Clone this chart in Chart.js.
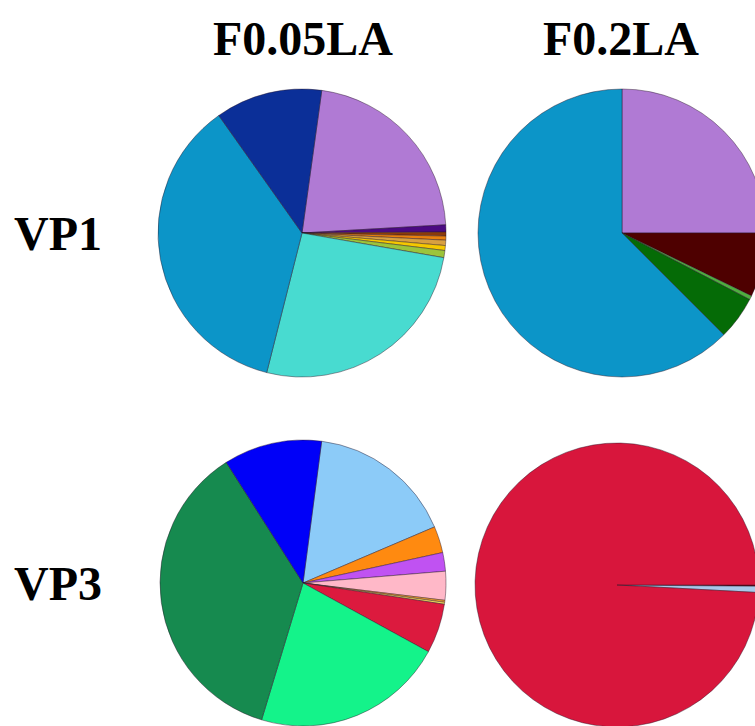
<!DOCTYPE html>
<html>
<head>
<meta charset="utf-8">
<script src="https://cdn.jsdelivr.net/npm/chart.js@4"></script>
<style>
  html, body { margin: 0; padding: 0; background: #fff; overflow: hidden; }
  body { width: 755px; height: 726px; position: relative; }
  .lbl {
    position: absolute;
    font-family: "Liberation Serif", "Times New Roman", serif;
    font-weight: bold;
    font-size: 48px;
    line-height: 48px;
    color: #000;
    white-space: nowrap;
  }
  .pie { position: absolute; }
</style>
</head>
<body>
<div class="lbl" style="left:303px; top:15px; transform:translateX(-50%);">F0.05LA</div>
<div class="lbl" style="left:621px; top:15px; transform:translateX(-50%);">F0.2LA</div>
<div class="lbl" style="left:14px; top:210px;">VP1</div>
<div class="lbl" style="left:14px; top:560px;">VP3</div>

<canvas id="vp1a" class="pie" width="300" height="300" style="left:152px; top:83px;"></canvas>
<canvas id="vp1b" class="pie" width="300" height="300" style="left:472px; top:83px;"></canvas>
<canvas id="vp3a" class="pie" width="300" height="300" style="left:153px; top:433px;"></canvas>
<canvas id="vp3b" class="pie" width="300" height="300" style="left:467px; top:435px;"></canvas>

<script>
// VP1 / F0.05LA  (percent, clockwise from the purple slice)
const vp1aValues = [21.9, 0.8, 0.45, 0.45, 0.6, 0.55, 0.8, 26.2, 36.25, 12.0];
const vp1aColors = ['#b07ad4', '#4b0a82', '#8b3a0a', '#e8800e', '#d8a040', '#f5c800', '#9cc43a', '#48dbd0', '#0c95c8', '#0b2f98'];

// VP1 / F0.2LA
const vp1bValues = [25.0, 7.2, 0.45, 4.85, 62.5];
const vp1bColors = ['#b07ad4', '#4e0000', '#4fae3f', '#056b06', '#0c95c8'];

// VP3 / F0.05LA
const vp3aValues = [16.5, 3.0, 2.1, 3.25, 0.22, 0.22, 5.6, 21.7, 36.3, 11.1];
const vp3aColors = ['#8ccbf8', '#ff8a10', '#c052f2', '#ffb8c8', '#f0a030', '#f5e060', '#dc1a3e', '#14f38a', '#168a4f', '#0000f8'];

// VP3 / F0.2LA
const vp3bValues = [0.15, 0.7, 99.15];
const vp3bColors = ['#7a0010', '#a8c8ea', '#d8163c'];

function drawPie(id, values, colors, rotation, radius) {
    const ctx = document.getElementById(id).getContext('2d');
    new Chart(ctx, {
        type: 'pie',
        data: {
            labels: values.map((v, i) => 'Group ' + (i + 1)),
            datasets: [{
                data: values,
                backgroundColor: colors,
                borderColor: 'rgba(40, 20, 40, 0.55)',
                borderWidth: 0.8
            }]
        },
        options: {
            responsive: false,
            animation: false,
            rotation: rotation,
            radius: radius,
            layout: { padding: 0 },
            plugins: {
                legend: { display: false },
                tooltip: { enabled: false }
            }
        }
    });
}

drawPie('vp1a', vp1aValues, vp1aColors, 7.9, 144);
drawPie('vp1b', vp1bValues, vp1bColors, 0, 144);
drawPie('vp3a', vp3aValues, vp3aColors, 7.5, 143);
drawPie('vp3b', vp3bValues, vp3bColors, 90, 142);
</script>
</body>
</html>
